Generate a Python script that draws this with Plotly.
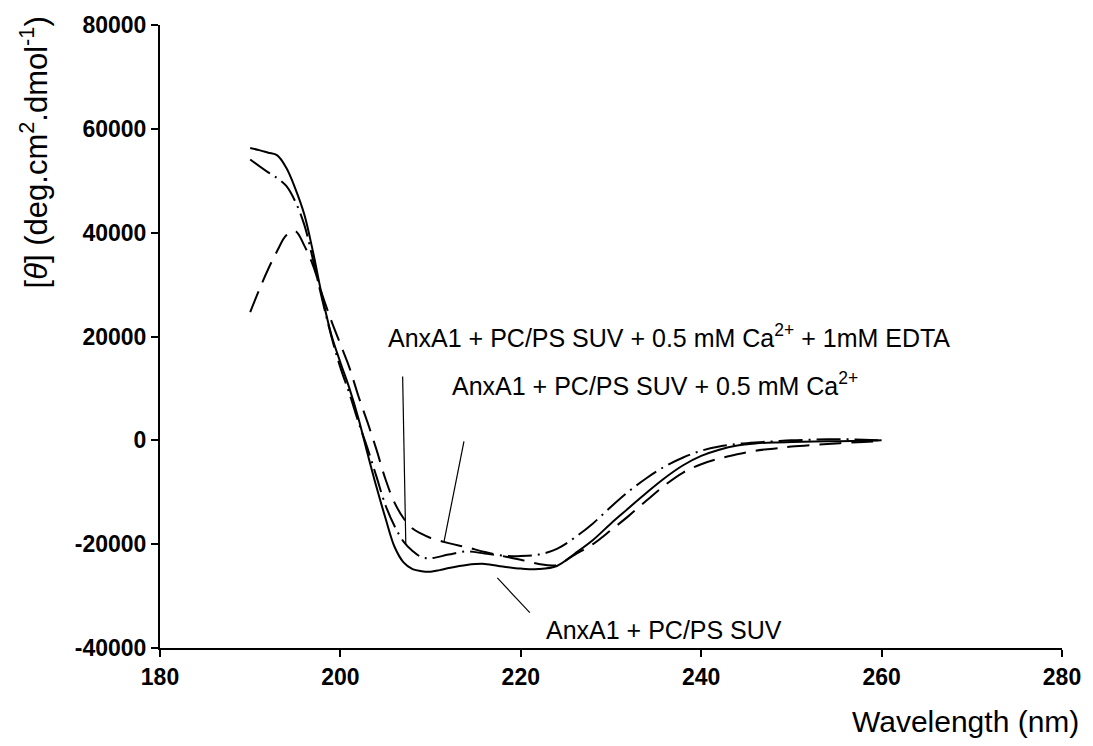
import plotly.graph_objects as go

# wavelength (nm) and mean residue ellipticity values
wl_suv = [190, 191, 192, 193, 194, 195, 196, 197, 198, 199, 200, 201, 202, 203, 204, 205, 206, 207, 208, 209, 210, 211, 212, 214, 216, 218, 220, 222, 224, 226, 228, 230, 232, 234, 236, 238, 240, 242, 244, 246, 248, 250, 254, 258, 260]
theta_suv = [56300, 55900, 55400, 54900, 52500, 48500, 43500, 36000, 27500, 20300, 15000, 10000, 4200, -2500, -9000, -15000, -20500, -23500, -24800, -25200, -25300, -25000, -24600, -24000, -23800, -24300, -24700, -24800, -24200, -21800, -19200, -16000, -13000, -10000, -7200, -4800, -3000, -1800, -1000, -600, -400, -300, -200, -100, 0]

wl_ca = [190, 191, 192, 193, 194, 195, 196, 197, 198, 199, 200, 201, 202, 203, 204, 205, 206, 207, 208, 209, 210, 212, 214, 216, 218, 220, 222, 224, 226, 228, 230, 232, 234, 236, 238, 240, 242, 244, 246, 248, 250, 254, 258, 260]
theta_ca = [24700, 29000, 33000, 36500, 39500, 40300, 37500, 33500, 28000, 23000, 18500, 14000, 8500, 3500, -1800, -7500, -12000, -15000, -17000, -18000, -18800, -19800, -20600, -21500, -22300, -23000, -23800, -24000, -22000, -20000, -17300, -14500, -11500, -8600, -6200, -4600, -3500, -2700, -2000, -1600, -1200, -700, -300, -200]

wl_edta = [190, 192, 193, 194, 195, 196, 197, 198, 199, 200, 201, 202, 203, 204, 205, 206, 207, 208, 209, 210, 212, 214, 216, 218, 220, 222, 224, 226, 228, 230, 232, 234, 236, 238, 240, 242, 244, 246, 248, 250, 252, 254, 256, 258, 260]
theta_edta = [54100, 51600, 50500, 49000, 46000, 41500, 34500, 27000, 20000, 14000, 9000, 3500, -1500, -7000, -12500, -16500, -19500, -21300, -22500, -22700, -22000, -21400, -21800, -22200, -22300, -22000, -20900, -18700, -16000, -12800, -9800, -7200, -5000, -3300, -2000, -1200, -700, -400, -200, 0, 100, 200, 200, 100, 0]

x_ticks = [180, 200, 220, 240, 260, 280]
y_ticks = [-40000, -20000, 0, 20000, 40000, 60000, 80000]
x_ticklabels = ["180", "200", "220", "240", "260", "280"]
y_ticklabels = ["-40000", "-20000", "0", "20000", "40000", "60000", "80000"]

label_edta = "AnxA1 + PC/PS SUV + 0.5 mM Ca<sup>2+</sup> + 1mM EDTA"
label_ca = "AnxA1 + PC/PS SUV + 0.5 mM Ca<sup>2+</sup>"
label_suv = "AnxA1 + PC/PS SUV"

fig = go.Figure()
fig.add_trace(go.Scatter(x=wl_suv, y=theta_suv, mode="lines", line=dict(color="black", width=2, shape="spline"), name=label_suv))
fig.add_trace(go.Scatter(x=wl_ca, y=theta_ca, mode="lines", line=dict(color="black", width=2, dash="22px,10px", shape="spline"), name=label_ca))
fig.add_trace(go.Scatter(x=wl_edta, y=theta_edta, mode="lines", line=dict(color="black", width=2, dash="24px,6px,2px,6px", shape="spline"), name=label_edta))

font_txt = dict(family="Liberation Sans, Arial", size=25, color="black")

# pointer lines
for (x0, y0, x1, y1) in [(206.9, 12300, 207.25, -19900), (213.7, -200, 211.5, -19400), (217.4, -26500, 221.0, -33200)]:
    fig.add_shape(type="line", x0=x0, y0=y0, x1=x1, y1=y1, xref="x", yref="y", line=dict(color="black", width=1.2))

fig.add_annotation(x=205.0, y=20100, text=label_edta, showarrow=False, xanchor="left", yanchor="middle", font=font_txt)
fig.add_annotation(x=212.2, y=10900, text=label_ca, showarrow=False, xanchor="left", yanchor="middle", font=font_txt)
fig.add_annotation(x=222.6, y=-36600, text=label_suv, showarrow=False, xanchor="left", yanchor="middle", font=font_txt)

fig.add_annotation(xref="paper", yref="paper", x=-0.14, y=0.795, xanchor="center", yanchor="middle", textangle=-90,
                   text="[<i>θ</i>] (deg.cm<sup>2</sup>.dmol<sup>-1</sup>)", showarrow=False,
                   font=dict(family="Liberation Sans, Arial", size=31, color="black"))
fig.add_annotation(xref="paper", yref="paper", x=1.021, y=-0.118, xanchor="right", yanchor="middle",
                   text="Wavelength (nm)", showarrow=False, font=dict(family="Liberation Sans, Arial", size=30, color="black"))

tickfont = dict(family="Liberation Sans, Arial", size=23, color="black", weight="bold")
fig.update_xaxes(range=[180, 280], tickvals=x_ticks, ticktext=x_ticklabels, ticks="outside", ticklen=7, tickwidth=1.5, tickcolor="black",
                 showline=True, linecolor="black", linewidth=2, showgrid=False, zeroline=False, tickfont=tickfont)
fig.update_yaxes(range=[-40000, 80000], tickvals=y_ticks, ticktext=y_ticklabels, ticks="outside", ticklen=7, tickwidth=1.5, tickcolor="black",
                 showline=True, linecolor="black", linewidth=2, showgrid=False, zeroline=False, tickfont=tickfont)

fig.update_layout(width=1093, height=746, margin=dict(l=160, r=23, t=22, b=98),
                  paper_bgcolor="white", plot_bgcolor="white", showlegend=False)

fig.write_html("out.html")
